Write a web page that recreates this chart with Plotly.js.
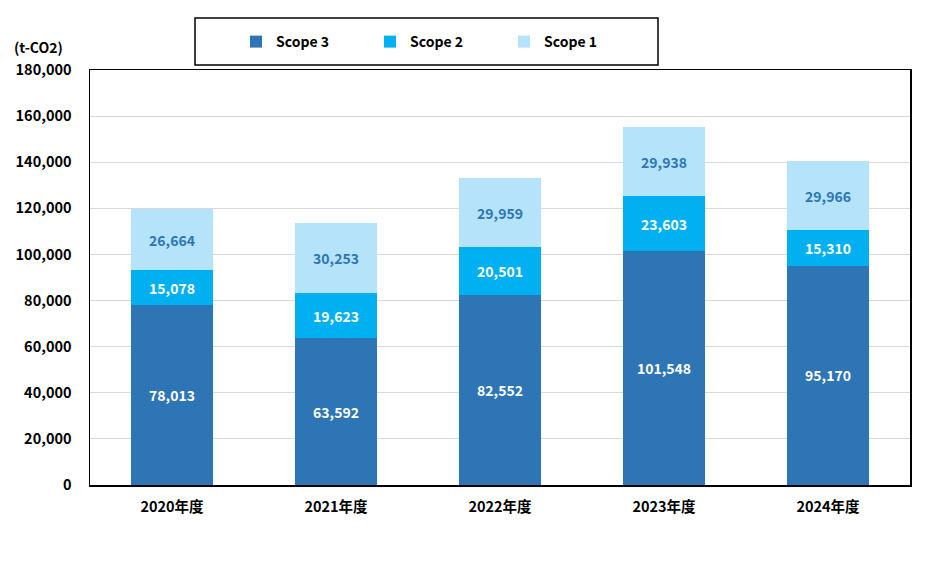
<!DOCTYPE html>
<html>
<head>
<meta charset="utf-8">
<script src="https://cdn.plot.ly/plotly-3.0.1.min.js"></script>
<style>html,body{margin:0;padding:0;background:#fff;}#chart{width:926px;height:568px;}</style>
</head>
<body>
<div id="chart"></div>
<script>
const categories = ["2020年度", "2021年度", "2022年度", "2023年度", "2024年度"];
const scope3 = [78013, 63592, 82552, 101548, 95170];
const scope2 = [15078, 19623, 20501, 23603, 15310];
const scope1 = [26664, 30253, 29959, 29938, 29966];
const yTickVals = [0, 20000, 40000, 60000, 80000, 100000, 120000, 140000, 160000, 180000];
const yTickText = ["0", "20,000", "40,000", "60,000", "80,000", "100,000", "120,000", "140,000", "160,000", "180,000"];
const unitLabel = "(t-CO2)";

const FONT = "'Noto Sans CJK JP', 'Noto Sans', sans-serif";
const fmt = v => v.toLocaleString('en-US');

function mk(name, vals, color, textColor) {
  return {
    type: 'bar', name: name, x: categories, y: vals,
    marker: {color: color},
    text: vals.map(fmt), textposition: 'inside', insidetextanchor: 'middle',
    textfont: {family: FONT, size: 14, color: textColor, weight: 'bold'},
    hoverinfo: 'x+y+name'
  };
}

const data = [
  mk('Scope 3', scope3, '#2E75B6', '#ffffff'),
  mk('Scope 2', scope2, '#00B0F0', '#ffffff'),
  mk('Scope 1', scope1, '#B4E3FA', '#2E75B6')
];

const layout = {
  width: 926, height: 568,
  margin: {l: 90, r: 16, t: 70, b: 83},
  barmode: 'stack', bargap: 0.5,
  paper_bgcolor: '#fff', plot_bgcolor: '#fff',
  font: {family: FONT, size: 14, color: '#000', weight: 'bold'},
  xaxis: {
    showline: true, linecolor: '#000', linewidth: 1.5, mirror: true,
    ticks: '', tickfont: {family: FONT, size: 14.5, color: '#000', weight: 'bold'},
    ticklabelstandoff: 8
  },
  yaxis: {
    range: [0, 180000], tickvals: yTickVals, ticktext: yTickText,
    showline: true, linecolor: '#000', linewidth: 1.5, mirror: true,
    showgrid: true, gridcolor: '#D9D9D9', gridwidth: 1,
    ticks: '', tickfont: {family: FONT, size: 14.5, color: '#000', weight: 'bold'},
    ticklabelstandoff: 14, zeroline: false
  },
  legend: {
    orientation: 'h', x: (276 - 40 - 90) / 820, xanchor: 'left',
    y: 1 - 42 / 568, yref: 'container', yanchor: 'middle',
    traceorder: 'normal', entrywidth: 89, entrywidthmode: 'pixels', itemwidth: 30,
    font: {family: FONT, size: 14, color: '#000', weight: 'bold'},
    bgcolor: 'rgba(0,0,0,0)', borderwidth: 0
  },
  shapes: [{
    type: 'rect', xref: 'paper', yref: 'paper',
    x0: (195 - 90) / 820, x1: (658 - 90) / 820,
    y0: (485 - 65) / 415, y1: (485 - 18) / 415,
    line: {color: '#000', width: 1.5}, fillcolor: 'rgba(0,0,0,0)', layer: 'above'
  }],
  annotations: [{
    text: unitLabel, xref: 'paper', yref: 'paper', x: -78 / 820, xanchor: 'left',
    y: (485 - 47) / 415, yanchor: 'middle', showarrow: false,
    font: {family: FONT, size: 14, color: '#000', weight: 'bold'}
  }]
};

Plotly.newPlot('chart', data, layout, {displayModeBar: false, staticPlot: true});
</script>
</body>
</html>
